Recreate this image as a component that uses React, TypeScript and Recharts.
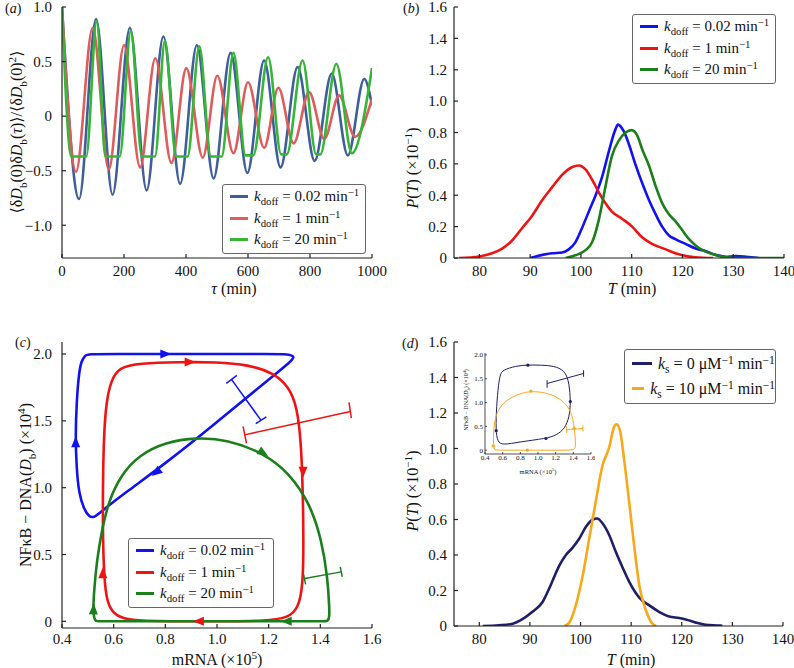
import React from "react";
import { ComposedChart, Line, Scatter, XAxis, YAxis } from "recharts";

const FONT = "'Liberation Serif', 'DejaVu Serif', serif";

// (a) normalised autocorrelation vs tau (min)
const ACF_SLOW: [number, number][] = [
  [0, 1.0], [55, -0.76], [110, 0.89], [163, -0.72], [219, 0.81], [273, -0.68],
  [327, 0.73], [381, -0.62], [435, 0.65], [489, -0.57], [544, 0.58], [598, -0.52],
  [652, 0.51], [705, -0.47], [760, 0.45], [815, -0.41], [870, 0.39], [922, -0.36],
  [975, 0.34], [1000, 0.1],
];
const ACF_MID: [number, number][] = [
  [0, 1.0], [45, -0.51], [99, 0.81], [151, -0.49], [200, 0.65], [252, -0.47],
  [301, 0.53], [353, -0.43], [401, 0.44], [454, -0.38], [501, 0.37], [553, -0.34],
  [600, 0.31], [652, -0.29], [698, 0.26], [747, -0.25], [797, 0.22], [846, -0.21],
  [894, 0.19], [945, -0.19], [1000, 0.16],
];
const ACF_FAST: [number, number][] = [
  [0, 1.0], [30, -0.37], [78, -0.37], [112, 0.87], [140, -0.37], [186, -0.37],
  [222, 0.78], [258, -0.37], [300, -0.37], [332, 0.69], [368, -0.37], [405, -0.37],
  [443, 0.64], [480, -0.37], [515, -0.37], [553, 0.58], [592, -0.36], [617, -0.36],
  [665, 0.54], [707, -0.35], [725, -0.35], [776, 0.51], [820, -0.35], [833, -0.35],
  [885, 0.48], [935, -0.34], [1000, 0.44],
];

// (b) period distributions P(T) (x10^-1)
const PT_SLOW: [number, number][] = [
  [90, 0], [92.4, 0.02], [94.3, 0.03], [96.3, 0.035], [97.6, 0.055], [98.9, 0.1],
  [100.2, 0.19], [101.6, 0.3], [102.9, 0.4], [104.2, 0.52], [105.5, 0.68], [106.8, 0.82],
  [107.3, 0.85], [108.4, 0.81], [109.4, 0.73], [110.7, 0.6], [112.1, 0.475], [113.4, 0.37],
  [114.7, 0.28], [116, 0.2], [117.3, 0.145], [118.6, 0.12], [120.6, 0.09], [122.6, 0.06],
  [124.5, 0.045], [126.5, 0.02], [128.5, 0.008], [130.5, 0.012], [132.5, 0.008], [135, 0],
];
const PT_MID: [number, number][] = [
  [76, 0], [80, 0.01], [82.5, 0.03], [84.5, 0.06], [86.4, 0.11], [88.4, 0.19],
  [90.4, 0.27], [92.4, 0.37], [94.3, 0.45], [96.3, 0.53], [98.3, 0.58], [99.6, 0.59],
  [100.9, 0.565], [102.2, 0.5], [103.5, 0.42], [104.8, 0.35], [106.1, 0.295], [108.1, 0.25],
  [110.1, 0.2], [112.1, 0.13], [114, 0.09], [116.7, 0.055], [118.6, 0.03], [121.3, 0.01],
  [124, 0.002], [126, 0],
];
const PT_FAST: [number, number][] = [
  [97, 0], [98.9, 0.017], [100.9, 0.05], [102.2, 0.1], [103.5, 0.24], [104.8, 0.45],
  [106.1, 0.65], [107.5, 0.75], [108.8, 0.8], [110, 0.815], [111.1, 0.78], [112.1, 0.69],
  [113.4, 0.59], [114.7, 0.46], [116, 0.35], [117.3, 0.28], [118.6, 0.235], [119.9, 0.18],
  [121.3, 0.12], [122.6, 0.08], [123.9, 0.05], [125.9, 0.025], [127.8, 0.007], [130.5, 0],
  [140, 0],
];

// (c) limit cycles: mRNA (x10^5) vs NFkB-DNA (x10^4)
const LOOP_SLOW: [number, number][] = [
  [0.5, 2.0], [0.6, 2.0], [0.8, 2.0], [1.0, 2.0], [1.2, 2.0], [1.28, 2.0], [1.3, 1.98],
  [1.29, 1.95], [1.2, 1.81], [1.0, 1.49], [0.8, 1.18], [0.65, 0.97], [0.56, 0.835],
  [0.525, 0.775], [0.505, 0.78], [0.485, 0.84], [0.466, 0.95], [0.456, 1.15],
  [0.452, 1.4], [0.457, 1.65], [0.465, 1.85], [0.475, 1.95], [0.49, 1.99],
];
const LOOP_MID: [number, number][] = [
  [0.62, 1.9], [0.7, 1.93], [0.85, 1.94], [1.0, 1.94], [1.12, 1.92], [1.22, 1.86],
  [1.28, 1.75], [1.31, 1.6], [1.325, 1.35], [1.332, 1.0], [1.335, 0.6], [1.333, 0.3],
  [1.32, 0.13], [1.29, 0.04], [1.22, 0.005], [1.05, 0], [0.85, 0], [0.66, 0.005],
  [0.61, 0.04], [0.58, 0.11], [0.565, 0.25], [0.558, 0.6], [0.558, 1.0], [0.562, 1.4],
  [0.572, 1.65], [0.59, 1.8],
];
const LOOP_FAST: [number, number][] = [
  [0.525, 0.02], [0.52, 0.08], [0.525, 0.25], [0.535, 0.45], [0.552, 0.66], [0.58, 0.9],
  [0.63, 1.1], [0.7, 1.245], [0.8, 1.34], [0.92, 1.375], [1.04, 1.36], [1.18, 1.26],
  [1.28, 1.11], [1.36, 0.88], [1.405, 0.61], [1.428, 0.33], [1.435, 0.1], [1.435, 0.03],
  [1.43, 0], [1.41, 0], [1.3, 0], [1.0, 0], [0.7, 0], [0.55, 0], [0.53, 0],
];
// direction arrows on the cycles: [mRNA, NFkB-DNA, heading in degrees]
const ARROWS_SLOW: [number, number, number][] = [[0.8, 2.0, 0], [0.453, 1.34, -90], [0.765, 1.115, 142]];
const ARROWS_MID: [number, number, number][] = [[0.894, 1.94, 0], [1.333, 1.12, 90], [0.93, 0, 180], [0.558, 0.36, -90]];
const ARROWS_FAST: [number, number, number][] = [[1.178, 1.26, 32], [1.27, 0, 180], [0.522, 0.09, -88]];
// period spread bars (main segment + two caps)
const BAR_SLOW: [number, number][][] = [
  [[1.056, 1.81], [1.17, 1.505]], [[1.036, 1.78], [1.077, 1.84]], [[1.15, 1.48], [1.191, 1.53]],
];
const BAR_MID: [number, number][][] = [
  [[1.107, 1.395], [1.516, 1.57]], [[1.101, 1.458], [1.114, 1.333]], [[1.511, 1.638], [1.52, 1.52]],
];
const BAR_FAST: [number, number][][] = [
  [[1.339, 0.32], [1.481, 0.37]], [[1.335, 0.352], [1.343, 0.277]], [[1.477, 0.407], [1.485, 0.332]],
];

// (d) period distributions with/without sequestration
const PT_KS0: [number, number][] = [
  [80.7, 0], [83.9, 0.004], [86.6, 0.013], [88.6, 0.04], [90.5, 0.08], [92.5, 0.135],
  [94.1, 0.23], [95.8, 0.34], [97.1, 0.4], [98.4, 0.44], [99.7, 0.49], [101.1, 0.56],
  [102.4, 0.6], [103.3, 0.606], [104.3, 0.58], [105.7, 0.51], [107, 0.415], [108.3, 0.33],
  [109.6, 0.25], [111.6, 0.16], [113.6, 0.116], [115.5, 0.08], [117.5, 0.054], [119.5, 0.045],
  [120.8, 0.037], [122.8, 0.019], [124.7, 0.007], [127.7, 0.002], [128, 0],
];
const PT_KS10: [number, number][] = [
  [96.8, 0], [97.8, 0.02], [99.1, 0.12], [100.4, 0.28], [101.7, 0.49], [103, 0.7],
  [104.3, 0.9], [105.7, 1.01], [106.6, 1.12], [107.1, 1.136], [107.8, 1.1], [108.6, 0.94],
  [109.6, 0.7], [110.6, 0.45], [111.6, 0.23], [112.9, 0.09], [114.2, 0.013], [114.9, 0],
];
// (d) inset cycles
const INSET_KS0: [number, number][] = [
  [0.6, 1.68], [0.75, 1.77], [0.885, 1.79], [1.05, 1.785], [1.172, 1.77], [1.306, 1.68],
  [1.355, 1.4], [1.37, 1.02], [1.355, 0.7], [1.306, 0.456], [1.21, 0.316], [1.095, 0.246],
  [0.79, 0.175], [0.6, 0.105], [0.541, 0.175], [0.522, 0.42], [0.53, 0.91], [0.553, 1.4],
  [0.575, 1.6],
];
const INSET_KS10: [number, number][] = [
  [0.492, 0.21], [0.503, 0.56], [0.541, 0.84], [0.637, 1.05], [0.79, 1.19], [0.924, 1.24],
  [1.095, 1.21], [1.248, 1.09], [1.363, 0.88], [1.409, 0.56], [1.424, 0.21], [1.424, 0.035],
  [1.4, 0], [1.2, 0], [0.98, 0], [0.7, 0], [0.52, 0], [0.503, 0.014],
];
const INSET_MARKS_KS0: [number, number][] = [[0.885, 1.785], [1.366, 1.02], [0.527, 0.41], [1.09, 0.245]];
const INSET_MARKS_KS10: [number, number][] = [[0.92, 1.24], [1.41, 0.46], [0.494, 0.09], [0.88, 0]];
const INSET_BAR_KS0: [number, number][][] = [
  [[1.103, 1.4], [1.516, 1.61]], [[1.103, 1.47], [1.103, 1.31]], [[1.516, 1.68], [1.516, 1.54]],
];
const INSET_BAR_KS10: [number, number][][] = [
  [[1.325, 0.43], [1.508, 0.456]], [[1.325, 0.5], [1.325, 0.36]], [[1.508, 0.52], [1.508, 0.39]],
];

const KDOFF = ["0.02", "1", "20"];
const KS = ["0", "10"];
const TAU_TICKS = [0, 200, 400, 600, 800, 1000];
const ACF_TICKS = [-1.0, -0.5, 0, 0.5, 1.0];
const T_TICKS = [80, 90, 100, 110, 120, 130, 140];
const P_TICKS = [0, 0.2, 0.4, 0.6, 0.8, 1.0, 1.2, 1.4, 1.6];
const MRNA_TICKS = [0.4, 0.6, 0.8, 1.0, 1.2, 1.4, 1.6];
const NF_TICKS = [0, 0.5, 1.0, 1.5, 2.0];

const A_COLORS = ["#3f5e9a", "#dd5c5c", "#36b636"];
const BC_COLORS = ["#1212ee", "#ee1414", "#1b7f1b"];
const D_COLORS = ["#1f1f68", "#f7a81b"];

const pts = (a: [number, number][]) => a.map(([x, y]) => ({ x, y }));
const arrows = (a: [number, number, number][]) => a.map(([x, y, dir]) => ({ x, y, dir }));
const fmt1 = (v: number) => (v === 0 ? "0" : v.toFixed(1).replace("-", "\u2212"));
const fmt0 = (v: number) => String(v);

type FrameCfg = {
  xDomain: [number, number];
  xTicks: number[];
  yDomain: [number, number];
  yTicks: number[];
  yWidth: number;
  xHeight: number;
  xMargin: number;
  yMargin: number;
  fmtX: (v: number) => string;
  fmtY: (v: number) => string;
  fs?: number;
  ts?: number;
  sw?: number;
};

// box with inward ticks on all four sides
function frame(c: FrameCfg) {
  const ts = c.ts ?? 4;
  const tickStyle = { fill: "#111", fontSize: c.fs ?? 15, fontFamily: FONT };
  const line = { stroke: "#222", strokeWidth: c.sw ?? 1.2 };
  return [
    <XAxis key="xb" xAxisId={0} dataKey="x" type="number" domain={c.xDomain} ticks={c.xTicks}
      interval={0} height={c.xHeight} tickSize={-ts} tickMargin={c.xMargin} tickFormatter={c.fmtX}
      tick={tickStyle} axisLine={line} tickLine={line} allowDataOverflow />,
    <XAxis key="xt" xAxisId="top" orientation="top" dataKey="x" type="number" domain={c.xDomain}
      ticks={c.xTicks} interval={0} height={0} tickSize={-ts} tick={false} axisLine={line}
      tickLine={line} allowDataOverflow />,
    <YAxis key="yl" yAxisId={0} dataKey="y" type="number" domain={c.yDomain} ticks={c.yTicks}
      interval={0} width={c.yWidth} tickSize={-ts} tickMargin={c.yMargin} tickFormatter={c.fmtY}
      tick={tickStyle} axisLine={line} tickLine={line} allowDataOverflow />,
    <YAxis key="yr" yAxisId="right" orientation="right" dataKey="y" type="number" domain={c.yDomain}
      ticks={c.yTicks} interval={0} width={0} tickSize={-ts} tick={false} axisLine={line}
      tickLine={line} allowDataOverflow />,
  ];
}

const arrowShape = (color: string) => (props: any) => {
  const { cx, cy, payload } = props;
  if (cx == null || cy == null) return <g />;
  return (
    <path d="M6,0 L-5,-4.5 L-5,4.5 Z" fill={color}
      transform={`translate(${cx},${cy}) rotate(${payload.dir})`} />
  );
};

const dotShape = (color: string) => (props: any) => {
  const { cx, cy } = props;
  if (cx == null || cy == null) return <g />;
  return <circle cx={cx} cy={cy} r={1.6} fill={color} />;
};

function barLines(segs: [number, number][][], color: string, width: number, id: string) {
  return segs.map((s, i) => (
    <Line key={`${id}${i}`} data={pts(s)} dataKey="y" type="linear" stroke={color}
      strokeWidth={width} dot={false} activeDot={false} isAnimationActive={false} />
  ));
}

type Part = [string, string?];

function MathText({ x, y, parts, fs, rotate }: { x: number; y: number; parts: Part[]; fs: number; rotate?: boolean }) {
  let shift = 0;
  const spans = parts.map(([t, s], k) => {
    const target = s === "sub" ? fs * 0.3 : s === "sup" ? -fs * 0.4 : 0;
    const dy = target - shift;
    shift = target;
    const small = s === "sub" || s === "sup";
    return (
      <tspan key={k} dy={dy} fontStyle={s === "i" ? "italic" : "normal"} fontSize={small ? fs * 0.7 : fs}>
        {t}
      </tspan>
    );
  });
  return (
    <text x={x} y={y} textAnchor="middle" fontSize={fs} fontFamily={FONT} fill="#111"
      transform={rotate ? `rotate(-90 ${x} ${y})` : undefined}>
      {spans}
    </text>
  );
}

function PanelTag({ x, y, letter }: { x: number; y: number; letter: string }) {
  return (
    <text x={x} y={y} fontSize={14} fontFamily={FONT} fill="#111">
      (<tspan fontStyle="italic">{letter}</tspan>)
    </text>
  );
}

type Row = { color: string; label: React.ReactNode };

function LegendBox({ left, top, width, rowH, rows, fs, lineW }: {
  left: number; top: number; width: number; rowH: number; rows: Row[]; fs: number; lineW: number;
}) {
  return (
    <div style={{
      position: "absolute", left, top, width, boxSizing: "border-box", border: "1px solid #666",
      borderRadius: 3, background: "#fff", padding: "1px 0 2px 7px", fontFamily: FONT, fontSize: fs,
      color: "#111",
    }}>
      {rows.map((r, i) => (
        <div key={i} style={{ display: "flex", alignItems: "center", height: rowH, whiteSpace: "nowrap" }}>
          <span style={{ display: "inline-block", width: lineW, height: 3, background: r.color, marginRight: 6 }} />
          <span style={{ lineHeight: 1 }}>{r.label}</span>
        </div>
      ))}
    </div>
  );
}

const sub = { fontSize: "0.72em", verticalAlign: "-0.35em", lineHeight: 0 } as const;
const sup = { fontSize: "0.72em", verticalAlign: "0.45em", lineHeight: 0 } as const;

const kdoffLabel = (v: string) => (
  <>
    <i>k</i><span style={sub}>doff</span> = {v} min<span style={sup}>{"\u22121"}</span>
  </>
);
const ksLabel = (v: string) => (
  <>
    <i>k</i><span style={sub}>s</span> = {v} {"\u03bc"}M<span style={sup}>{"\u22121"}</span> min<span style={sup}>{"\u22121"}</span>
  </>
);

export default function App() {
  return (
    <div style={{ position: "absolute", left: 0, top: 0, width: 794, height: 668, background: "#fff", fontFamily: FONT }}>
      {/* (a) */}
      <div style={{ position: "absolute", left: 0, top: 0 }}>
        <ComposedChart width={400} height={300} margin={{ top: 7, right: 28, bottom: 0, left: 0 }}>
          {frame({
            xDomain: [0, 1000], xTicks: TAU_TICKS, yDomain: [-1.3, 1.0], yTicks: ACF_TICKS,
            yWidth: 62, xHeight: 42, xMargin: 11, yMargin: 14, fmtX: fmt0, fmtY: fmt1,
          })}
          {[ACF_SLOW, ACF_MID, ACF_FAST].map((s, i) => (
            <Line key={i} data={pts(s)} dataKey="y" type="monotone" stroke={A_COLORS[i]} strokeWidth={2.6}
              dot={false} activeDot={false} isAnimationActive={false} />
          ))}
        </ComposedChart>
      </div>

      {/* (b) */}
      <div style={{ position: "absolute", left: 400, top: 0 }}>
        <ComposedChart width={394} height={300} margin={{ top: 7, right: 10, bottom: 0, left: 0 }}>
          {frame({
            xDomain: [75, 140], xTicks: T_TICKS, yDomain: [0, 1.6], yTicks: P_TICKS,
            yWidth: 54, xHeight: 42, xMargin: 11, yMargin: 11, fmtX: fmt0, fmtY: fmt1,
          })}
          {[PT_SLOW, PT_MID, PT_FAST].map((s, i) => (
            <Line key={i} data={pts(s)} dataKey="y" type="monotone" stroke={BC_COLORS[i]} strokeWidth={2.6}
              dot={false} activeDot={false} isAnimationActive={false} />
          ))}
        </ComposedChart>
      </div>

      {/* (c) */}
      <div style={{ position: "absolute", left: 0, top: 330 }}>
        <ComposedChart width={400} height={338} margin={{ top: 12, right: 28, bottom: 0, left: 0 }}>
          {frame({
            xDomain: [0.4, 1.6], xTicks: MRNA_TICKS, yDomain: [-0.05, 2.09], yTicks: NF_TICKS,
            yWidth: 62, xHeight: 40, xMargin: 9, yMargin: 14, fmtX: fmt1, fmtY: fmt1,
          })}
          {[LOOP_SLOW, LOOP_MID, LOOP_FAST].map((s, i) => (
            <Line key={`l${i}`} data={pts(s)} dataKey="y" type="basisClosed" stroke={BC_COLORS[i]} strokeWidth={2.6}
              dot={false} activeDot={false} isAnimationActive={false} />
          ))}
          {barLines(BAR_SLOW, BC_COLORS[0], 1.5, "bs")}
          {barLines(BAR_MID, BC_COLORS[1], 1.5, "bm")}
          {barLines(BAR_FAST, BC_COLORS[2], 1.5, "bf")}
          {[ARROWS_SLOW, ARROWS_MID, ARROWS_FAST].map((a, i) => (
            <Scatter key={`a${i}`} data={arrows(a)} shape={arrowShape(BC_COLORS[i])} isAnimationActive={false} />
          ))}
        </ComposedChart>
      </div>

      {/* (d) */}
      <div style={{ position: "absolute", left: 400, top: 330 }}>
        <ComposedChart width={394} height={338} margin={{ top: 12, right: 11, bottom: 0, left: 0 }}>
          {frame({
            xDomain: [75, 140], xTicks: T_TICKS, yDomain: [0, 1.6], yTicks: P_TICKS,
            yWidth: 54, xHeight: 42, xMargin: 11, yMargin: 11, fmtX: fmt0, fmtY: fmt1,
          })}
          {[PT_KS0, PT_KS10].map((s, i) => (
            <Line key={i} data={pts(s)} dataKey="y" type="monotone" stroke={D_COLORS[i]} strokeWidth={2.6}
              dot={false} activeDot={false} isAnimationActive={false} />
          ))}
        </ComposedChart>
      </div>

      {/* (d) inset */}
      <div style={{ position: "absolute", left: 455, top: 345 }}>
        <ComposedChart width={140} height={135} margin={{ top: 8, right: 4, bottom: 0, left: 0 }}>
          {frame({
            xDomain: [0.4, 1.6], xTicks: MRNA_TICKS, yDomain: [-0.08, 2.04], yTicks: NF_TICKS,
            yWidth: 30, xHeight: 26, xMargin: 3, yMargin: 4, fmtX: fmt1, fmtY: fmt1, fs: 7, ts: 2, sw: 0.8,
          })}
          <Line data={pts(INSET_KS0)} dataKey="y" type="basisClosed" stroke={D_COLORS[0]} strokeWidth={1}
            dot={false} activeDot={false} isAnimationActive={false} />
          <Line data={pts(INSET_KS10)} dataKey="y" type="basisClosed" stroke={D_COLORS[1]} strokeWidth={1}
            dot={false} activeDot={false} isAnimationActive={false} />
          {barLines(INSET_BAR_KS0, D_COLORS[0], 1, "i0")}
          {barLines(INSET_BAR_KS10, D_COLORS[1], 1, "i1")}
          <Scatter data={pts(INSET_MARKS_KS0)} shape={dotShape(D_COLORS[0])} isAnimationActive={false} />
          <Scatter data={pts(INSET_MARKS_KS10)} shape={dotShape(D_COLORS[1])} isAnimationActive={false} />
        </ComposedChart>
      </div>

      {/* titles */}
      <svg width={794} height={668} style={{ position: "absolute", left: 0, top: 0, pointerEvents: "none" }}>
        <PanelTag x={5} y={13} letter="a" />
        <PanelTag x={403} y={13} letter="b" />
        <PanelTag x={15} y={347} letter="c" />
        <PanelTag x={402} y={348} letter="d" />
        <MathText x={22} y={132} fs={16} rotate parts={[
          ["\u27e8\u03b4"], ["D", "i"], ["b", "sub"], ["(0)\u03b4"], ["D", "i"], ["b", "sub"], ["("], ["\u03c4", "i"],
          [")\u27e9/\u27e8\u03b4"], ["D", "i"], ["b", "sub"], ["(0)"], ["2", "sup"], ["\u27e9"],
        ]} />
        <MathText x={418} y={168} fs={16} rotate parts={[["P", "i"], ["("], ["T", "i"], [") (\u00d710"], ["\u22121", "sup"], [")"]]} />
        <MathText x={31} y={485} fs={16} rotate parts={[["NF\u03baB \u2212 DNA("], ["D", "i"], ["b", "sub"], [") (\u00d710"], ["4", "sup"], [")"]]} />
        <MathText x={418} y={491} fs={16} rotate parts={[["P", "i"], ["("], ["T", "i"], [") (\u00d710"], ["\u22121", "sup"], [")"]]} />
        <MathText x={234} y={294} fs={16} parts={[["\u03c4", "i"], [" (min)"]]} />
        <MathText x={632} y={294} fs={16} parts={[["T", "i"], [" (min)"]]} />
        <MathText x={217} y={665} fs={16} parts={[["mRNA (\u00d710"], ["5", "sup"], [")"]]} />
        <MathText x={631} y={665} fs={16} parts={[["T", "i"], [" (min)"]]} />
        <MathText x={468} y={400} fs={6} rotate parts={[["NF\u03baB \u2212 DNA("], ["D", "i"], ["b", "sub"], [") (\u00d710"], ["4", "sup"], [")"]]} />
        <MathText x={538} y={474} fs={6.5} parts={[["mRNA (\u00d710"], ["5", "sup"], [")"]]} />
      </svg>

      <LegendBox left={222} top={184} width={144} rowH={21.5} fs={15} lineW={18}
        rows={KDOFF.map((v, i) => ({ color: A_COLORS[i], label: kdoffLabel(v) }))} />
      <LegendBox left={632} top={14} width={144} rowH={21.5} fs={15} lineW={18}
        rows={KDOFF.map((v, i) => ({ color: BC_COLORS[i], label: kdoffLabel(v) }))} />
      <LegendBox left={128} top={538} width={146} rowH={21.5} fs={15} lineW={18}
        rows={KDOFF.map((v, i) => ({ color: BC_COLORS[i], label: kdoffLabel(v) }))} />
      <LegendBox left={624} top={349} width={152} rowH={25} fs={16} lineW={20}
        rows={KS.map((v, i) => ({ color: D_COLORS[i], label: ksLabel(v) }))} />
    </div>
  );
}
